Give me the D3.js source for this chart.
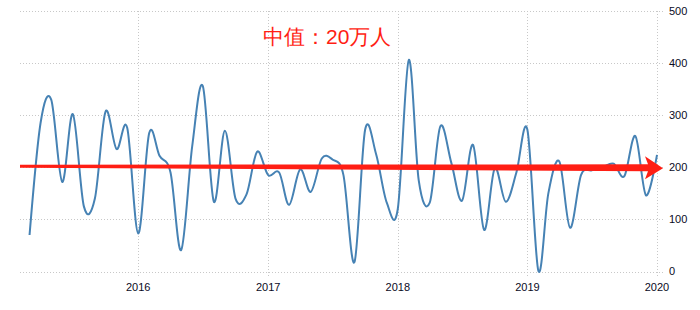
<!DOCTYPE html>
<html>
<head>
<meta charset="utf-8">
<script src="https://cdn.jsdelivr.net/npm/d3@7"></script>
<style>
  html, body { margin: 0; padding: 0; background: #fff; }
  #chart { width: 700px; height: 310px; }
  text { font-family: "Liberation Sans", Arial, sans-serif; }
</style>
</head>
<body>
<div id="chart"></div>
<script>
const width = 700;
const height = 310;

// monthly change, thousands of jobs
const months = [
	"2015-03", "2015-04", "2015-05", "2015-06", "2015-07", "2015-08", "2015-09", "2015-10", "2015-11", "2015-12",
	"2016-01", "2016-02", "2016-03", "2016-04", "2016-05", "2016-06", "2016-07", "2016-08", "2016-09", "2016-10", "2016-11", "2016-12",
	"2017-01", "2017-02", "2017-03", "2017-04", "2017-05", "2017-06", "2017-07", "2017-08", "2017-09", "2017-10", "2017-11", "2017-12",
	"2018-01", "2018-02", "2018-03", "2018-04", "2018-05", "2018-06", "2018-07", "2018-08", "2018-09", "2018-10", "2018-11", "2018-12",
	"2019-01", "2019-02", "2019-03", "2019-04", "2019-05", "2019-06", "2019-07", "2019-08", "2019-09", "2019-10", "2019-11", "2019-12",
	"2020-01",
];
const values = [
	70, 285, 330, 172, 302, 125, 140, 307, 235, 276,
	73, 266, 222, 190, 41, 240, 356, 134, 270, 140, 148, 230,
	185, 190, 128, 196, 153, 217, 215, 185, 18, 272, 225, 132,
	120, 406, 175, 132, 279, 208, 136, 243, 80, 198, 134, 190,
	272, 1, 150, 211, 84, 185, 194, 200, 207, 183, 260, 146,
	224,
];
const yTicks = [0, 100, 200, 300, 400, 500];
const xTicks = ["2016", "2017", "2018", "2019", "2020"];
const median = 200;
const label = "中值：20万人";

const parseMonth = d3.timeParse("%Y-%m");
const parseYear = d3.timeParse("%Y");
const data = months.map((m, i) => ({ date: parseMonth(m), value: values[i] }));

const svg = d3.select("#chart").append("svg").attr("width", width).attr("height", height);

const x = d3.scaleTime().domain([parseYear("2015"), parseYear("2020")]).range([8.6, 657]);
const y = d3.scaleLinear().domain([0, 500]).range([271.5, 11]);

// grid
svg
	.append("g")
	.selectAll("line")
	.data(yTicks)
	.join("line")
	.attr("x1", 20)
	.attr("x2", 665)
	.attr("y1", d => Math.round(y(d)) + 0.5)
	.attr("y2", d => Math.round(y(d)) + 0.5)
	.attr("stroke", "#c8c8c8")
	.attr("stroke-dasharray", "1,2");

svg
	.append("g")
	.selectAll("line")
	.data(xTicks)
	.join("line")
	.attr("x1", d => Math.round(x(parseYear(d))) + 0.5)
	.attr("x2", d => Math.round(x(parseYear(d))) + 0.5)
	.attr("y1", 11)
	.attr("y2", 277)
	.attr("stroke", "#c8c8c8")
	.attr("stroke-dasharray", "1,2");

// axis labels
svg
	.append("g")
	.selectAll("text")
	.data(yTicks)
	.join("text")
	.attr("x", 669)
	.attr("y", d => y(d))
	.attr("dy", "0.35em")
	.attr("font-size", 11)
	.attr("fill", "#0a0a1e")
	.text(d => d);

svg
	.append("g")
	.selectAll("text")
	.data(xTicks)
	.join("text")
	.attr("x", d => x(parseYear(d)))
	.attr("y", 291)
	.attr("text-anchor", "middle")
	.attr("font-size", 11)
	.attr("fill", "#0a0a1e")
	.text(d => d);

// series
const line = d3
	.line()
	.x(d => x(d.date))
	.y(d => y(d.value))
	.curve(d3.curveCardinal.tension(0));

svg
	.append("path")
	.datum(data)
	.attr("d", line)
	.attr("fill", "none")
	.attr("stroke", "#4682b4")
	.attr("stroke-width", 2);

// median arrow
const my = y(median);
const x0 = 20;
const x1 = 648;
const tip = 663;
svg
	.append("path")
	.attr("d", `M${x0},${my - 2.5} L${x1},${my - 3} L${x1 - 3},${my - 11} L${tip},${my + 1} L${x1 - 3},${my + 12} L${x1},${my + 4} L${x0},${my + 0.5} Z`)
	.attr("fill", "#ff1e14");

svg
	.append("text")
	.attr("x", 263)
	.attr("y", 44)
	.attr("font-family", "'Noto Sans CJK SC', sans-serif")
	.attr("font-size", 21)
	.attr("fill", "#ff1e14")
	.text(label);
</script>
</body>
</html>
